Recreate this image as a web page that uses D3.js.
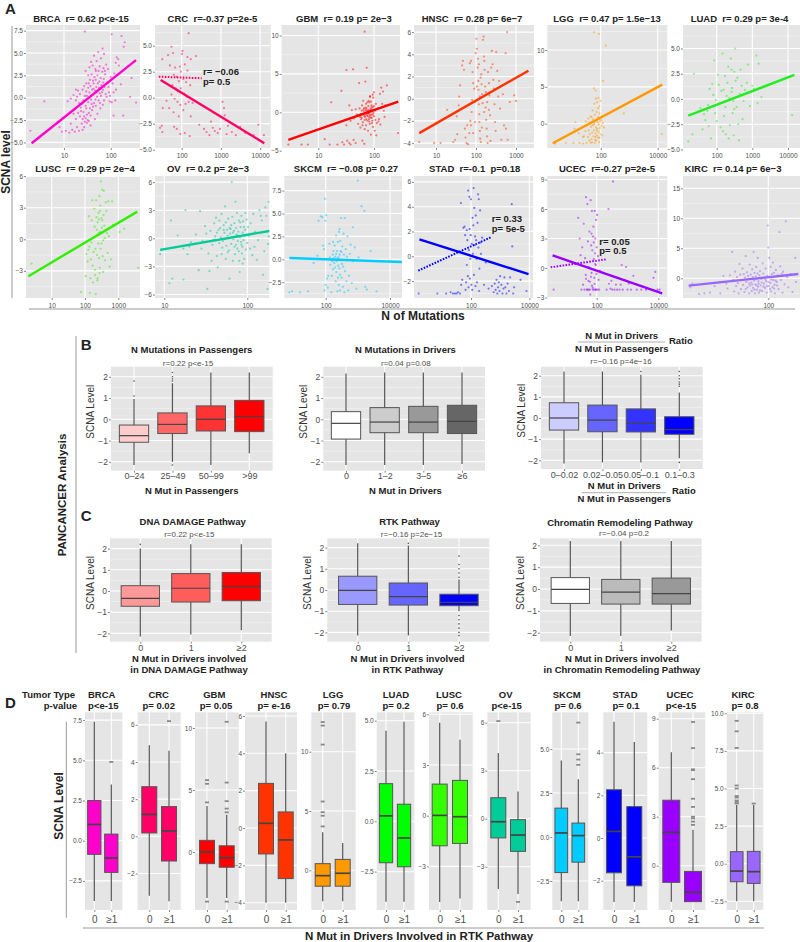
<!DOCTYPE html>
<html><head><meta charset="utf-8">
<script src="https://cdn.jsdelivr.net/npm/d3@7/dist/d3.min.js"></script>
<style>
html,body{margin:0;padding:0;background:#fff}
svg{display:block}
text{font-family:"Liberation Sans",Arial,sans-serif;white-space:pre}
.tick text{fill:#4d4d4d}
.tick line{stroke:#555;stroke-width:.7}
.domain{display:none}
.b{font-weight:bold;fill:#222}
</style></head><body>
<svg id="c" width="800" height="942"></svg>
<script>
// ---------- Panel A: scatter readings as [mutations, SCNA level] ----------
const brcaPoints=[[1.9,-3.7],[3.8,-.4],[28,7.4],[105,7.1],[170,6.9],[200,6.2],[190,5.7],[280,2.2],[350,-.55],[260,.1],[115,-2],[185,-2],[8,-3.3],[9,-3.8],[11,-3.7],[13,-3.9],[15,-3.6],[17,-3.8],[19,-3.3],[14,-2.9],[18,-2.4],[21,-3.7],[24,-2.9],[12,-.4],[14,-.1],[16,.3],[18,.9],[20,.8],[17,-1.3],[20,-1.7],[22,-2.1],[23,-1.5],[25,-2.4],[27,-2.1],[29,-2.3],[31,-1.9],[24,-.7],[26,-.3],[29,-.9],[31,.2],[33,-.5],[36,-1.2],[22,.4],[25,.9],[27,1.3],[30,1.6],[33,1.1],[35,.6],[38,-.2],[41,.3],[44,-.6],[46,.8],[49,1.2],[51,.1],[55,-.3],[58,.5],[63,1.4],[68,.9],[72,-.3],[78,.4],[85,1.7],[92,.6],[36,2],[39,2.6],[42,1.9],[45,2.3],[48,3],[52,2.5],[57,1.8],[61,2.2],[66,2.9],[71,2.1],[76,2.6],[35,3.4],[38,4],[41,3.6],[44,4.7],[47,3.2],[50,4.1],[54,5.1],[58,3.5],[62,4.4],[67,5.5],[72,4.9],[80,3.7],[88,3.2],[100,2.3],[110,1.6],[120,2.7],[128,3.9],[135,4.5],[145,4.3],[150,3.6],[165,1.5],[95,-.4],[105,-.5],[125,-.3],[40,-1.4],[46,-2.4],[52,-1.8],[34,-2.6],[37,-3.1],[60,-1.2],[19,.1],[21,-.6],[23,-1.1],[26,-1.6],[28,-2.7],[30,-1.2],[32,-2.5],[34,-1.7],[37,-2],[39,-.7],[42,-1],[43,1],[47,-.2],[50,.6],[53,1.6],[56,1.1],[59,-.6],[62,.2],[65,.6],[69,1.7],[74,1.2],[82,.1],[90,1.2],[97,.2],[115,.6],[130,.9],[30,.7],[28,.2],[34,1.6],[37,1.3],[40,.9],[43,1.6],[48,2],[55,3],[60,1],[70,3.3],[75,3],[33,2.5],[29,3],[25,-3.6],[18,-.3],[16,-1.8],[27,-3.3],[31,-2.8],[48,-.9],[68,-.8]];
const crcPoints=[[150,6.2],[55,4.9],[105,4.5],[102,4.2],[60,4.3],[45,4.1],[32,3.7],[140,3.9],[170,3.7],[230,4],[50,3.1],[68,2.9],[90,3],[95,2.5],[120,3.2],[140,2.6],[63,2.2],[75,2],[85,1.6],[110,1.8],[130,1.5],[165,1.2],[58,1.2],[70,.9],[80,.6],[95,.9],[115,.4],[135,.1],[55,.3],[66,-.1],[78,-.4],[92,-.7],[125,-.6],[150,-.4],[190,-.5],[41,-.3],[33,-1],[48,-1],[62,-1.4],[84,-1.8],[110,-1.2],[170,-1.8],[28,-2.9],[32,-3.3],[31,-2.7],[64,-2.8],[75,-3],[92,-3.5],[120,-3.4],[160,-3.7],[280,-2.6],[370,-3],[430,-3.3],[510,-3.6],[620,-2.9],[700,-3.2],[830,-3.4],[950,-3],[1100,-.4],[1200,-1],[1500,-2.7],[1900,-3.3],[2400,-3.6],[3100,-2.8],[4200,-3.4],[6800,-3.6],[9000,-2.6],[12500,-3.6],[560,-2.3],[1250,-1.7],[1400,-3.5]];
const gbmPoints=[[2.9,-4.2],[5,-4.2],[6.5,-4.2],[13,-3.5],[16,-4.2],[22,-4.2],[27,-3.9],[29,-4.2],[33,-3.7],[36,-4],[38,-4.2],[43,-3.6],[47,-4],[62,-3.7],[67,-4.1],[68,10.5],[74,5.8],[32,5.5],[42,5.6],[70,4],[54,3.8],[26,2.8],[17,1.3],[36,.9],[40,.3],[44,-.8],[32,-1.7],[38,-1.1],[52,-1.5],[56,-.6],[60,.2],[58,-.2],[61,.9],[64,1.5],[67,-.5],[69,-.1],[71,.3],[73,-.9],[75,-.4],[77,.1],[79,.8],[81,-.2],[83,1.3],[85,2.1],[87,-.7],[89,-.3],[91,.4],[93,-1.1],[95,.7],[97,1.9],[100,-.5],[104,.2],[108,1.1],[112,-1.4],[118,.5],[123,-.9],[128,2.4],[135,3.2],[140,1.1],[145,2.7],[150,.2],[155,-.6],[100,2.6],[95,2.3],[85,2],[80,1.5],[72,-1.7],[68,-2.2],[78,-2.4],[84,-1.5],[88,-2.9],[96,-1.9],[103,-2.4],[110,-3],[120,-1.2],[130,-1.6],[63,-1.3],[57,-2],[49,-.3],[47,.4],[55,.5],[60,-.7],[66,.5],[70,.6],[76,-1.1],[82,-.6],[90,.9],[98,-.1],[65,-.2],[74,.2],[80,-.1],[86,.4],[270,-2.7],[160,.9],[170,3.5],[53,-.4],[59,-.9],[62,-.3],[64,.3],[67,.1],[69,-.6],[71,-.3],[73,.5],[75,-.1],[77,-.5],[79,.3],[81,-.9],[83,.2],[85,-.4],[87,.1],[89,.6],[91,-.7],[93,.1],[95,-.3],[72,1.1],[76,1.3],[88,1.4],[92,-1.4],[100,.8],[106,-1],[68,-1],[62,-1.7],[82,-1.2]];
const hnscPoints=[[3.8,-3.9],[9,-4],[13,-4],[19,-1],[27,-3.9],[30,-3.7],[34,-3.2],[33,-1.6],[37,-.6],[38,.2],[40,1.2],[45,3],[47,3.4],[50,2.6],[53,-2.7],[55,-3.5],[58,-4],[63,-4.1],[68,-3.1],[72,-2],[75,-2.4],[78,-1.2],[80,-.1],[70,3.2],[75,3.4],[82,2.4],[85,1.4],[90,.9],[94,-.3],[98,4.1],[102,5.4],[105,4.5],[110,2.8],[112,3.6],[115,.8],[118,-.5],[120,-1.4],[122,-2.1],[125,-2.9],[128,-3.6],[132,-3.9],[135,2.2],[138,1.3],[142,.4],[146,-.4],[150,5.3],[155,5.6],[158,3.8],[162,3.4],[165,2.6],[170,1.1],[175,-.8],[180,-1.9],[185,-2.7],[190,-3.4],[195,-4],[200,2.4],[210,1.4],[215,.3],[225,-1.5],[230,-3.8],[240,2.8],[250,4.3],[260,3.1],[270,1.7],[280,.9],[290,-.5],[300,-2.1],[310,-2.9],[320,4.2],[340,2.5],[360,.2],[380,1.6],[400,-.9],[430,-3.7],[470,.4],[500,-2.4],[550,4.1],[600,6],[620,-3.7],[700,-.3],[900,.3],[1000,-.2],[560,-2.7],[70,-.5],[60,-2.4],[85,-3.1],[95,-2.1],[105,1.1],[130,1.9],[140,-2.6],[160,-1.2],[175,.6],[190,-.3],[210,-1],[125,.2],[118,3.1],[115,1.6]];
const lggPoints=[[58,12.4],[87,12.2],[150,10.6],[120,5.8],[58,4.8],[66,4.5],[13,.2],[650,1.4],[14000,-1.4],[2.5,-2.7],[6,-2.6],[11,-2.6],[18,-2.6],[24,-2.7],[32,-2.6],[45,-2.6],[62,-2.6],[12,-.7],[17,-1.3],[22,-.5],[26,-1.7],[29,-1],[33,-.2],[36,-1.8],[38,-.9],[41,-1.4],[43,.2],[46,-.4],[48,-2.1],[50,-1.2],[52,-.2],[54,.6],[56,-1.7],[58,-.9],[60,.1],[62,1.2],[64,-2.2],[66,-1.3],[68,-.5],[70,.4],[72,1.6],[74,-1.6],[76,-.7],[78,.2],[80,.9],[82,2.1],[84,-1.1],[86,-.1],[88,.7],[90,1.4],[92,-1.9],[94,-.6],[96,.3],[98,3.1],[100,-1.4],[103,.5],[106,-.3],[110,1],[114,-1.6],[118,.1],[60,2.7],[68,3.4],[75,2.9],[82,3.5],[90,2.4],[52,1.8],[44,1],[37,.7],[30,.3],[24,-1.8],[130,-.5],[50,-2.5],[70,-2.3],[88,-2.5],[40,-2.3],[65,-1.8],[72,-.9],[80,-1.9],[58,-.1],[48,.9]];
const luadPoints=[[16,-4.2],[21,-3.5],[23,2.5],[35,-.9],[40,-3],[44,-1.5],[48,-2.1],[55,-1.2],[57,-.6],[60,-2.7],[64,1],[70,-3.9],[75,1.5],[80,.4],[85,3.8],[90,-1.4],[95,-.1],[100,-2.2],[110,2.4],[115,1.4],[120,-.5],[128,-2.8],[135,.8],[145,4.5],[150,-3.2],[155,.9],[160,-1.7],[170,2.3],[175,-.8],[180,-3.5],[190,.3],[200,1.6],[210,3.2],[215,-3.9],[225,.1],[235,-2.6],[250,4],[260,2.9],[270,1.1],[280,-1.4],[290,-.2],[300,-3.6],[310,2.7],[330,5],[340,1.8],[360,-.8],[380,2.1],[400,-2.5],[420,-4.1],[440,.5],[470,2.9],[500,1.3],[530,-2],[570,-.2],[620,.9],[700,1.6],[750,3.4],[850,-.7],[1000,1.3],[1100,1],[1300,4.3],[1500,3.5],[1400,-.4],[1800,.2],[13000,-1.6],[310,-1],[260,.7]];
const luscPoints=[[2.5,-2.3],[75,-5],[105,-3.5],[110,-1.4],[120,-2.1],[125,-1],[130,2.2],[135,-.7],[140,-5.1],[145,-3.7],[150,-1.9],[155,-.3],[160,1.8],[165,3.7],[170,-2.5],[175,-4.1],[180,-1.2],[185,.2],[190,2.9],[195,1.2],[200,-2.9],[205,-.9],[210,-5.2],[215,3.7],[220,2.1],[225,.9],[230,-1.5],[235,-3.9],[240,1.6],[245,.4],[250,-.4],[255,2.5],[260,1.9],[265,-1.8],[270,4.1],[275,-3.2],[280,.7],[285,2.7],[290,3.2],[295,-.9],[300,5.5],[310,2],[320,1.1],[330,4.7],[340,-1.6],[350,-.1],[360,2.3],[370,4.6],[380,1.3],[390,.1],[400,-2],[420,3.5],[440,2.7],[460,.6],[480,-1.3],[500,3.6],[520,.3],[550,-2.6],[600,-1.9],[650,3.6],[700,1.4],[1100,.7],[1500,1],[4000,-2.7],[280,-2.7],[240,-3.7],[200,-3.4],[350,-3.1],[330,1.8],[260,.6],[310,-.4]];
const ovPoints=[[8.9,-1.7],[11.5,-4.8],[12.5,-4.3],[12,1.9],[14.5,.3],[17,-4.4],[18,3],[19,-1.7],[17,-1.1],[20,-.9],[21,-.4],[24,.4],[26,-3.4],[27,2.9],[28,-1.1],[29,-.3],[31,1.3],[32,.5],[33,-5.4],[34,-1.6],[35,-3.5],[36,.8],[37,-2.4],[38,-.7],[39,-.2],[40,1.6],[41,.2],[42,2.2],[43,-1.9],[44,-3.1],[45,.9],[46,-.5],[47,1.1],[48,.1],[49,2.6],[50,-1],[51,-.3],[52,1.4],[53,.6],[54,3.4],[55,-2.2],[56,-.8],[57,.9],[58,.3],[59,2.1],[60,-1.3],[61,-4.3],[62,.5],[63,1],[64,-.6],[65,6],[66,2.3],[67,-2.4],[68,-.1],[69,.8],[70,1.6],[71,-1.7],[72,3.9],[73,-.7],[74,.4],[75,2.7],[76,-1.1],[77,-.3],[78,.7],[79,1.9],[80,-2.4],[81,-3.6],[82,.1],[83,1.2],[84,-.4],[85,2.4],[86,-1.6],[87,-.9],[88,.6],[89,1.8],[90,-.2],[92,-2.2],[94,.9],[96,-1.2],[98,2],[100,-.5],[105,.3],[110,1.6],[115,-1.8],[118,2.6],[122,-.9],[125,.7],[130,-2.3],[135,-.2],[140,3],[145,2.4],[150,1.9],[155,-3.9],[160,-1.4],[165,3.3],[170,2.4],[175,-5.4],[178,-.6],[180,3.9],[182,.2],[43,.6],[46,1.9],[49,-1.7],[52,.9],[55,1.7],[58,-1.5],[61,1.1],[64,1.4],[67,.6],[70,-.9],[73,1.1],[76,.3],[79,-1.4],[82,1.7],[85,-.7],[88,-2.7],[91,1.2],[95,2.7],[102,1.2],[108,-1.1]];
const skcmPoints=[[7.4,-3.6],[9,-3.5],[16,-3.6],[28,-3.5],[42,-.4],[55,.4],[60,4.2],[70,4.7],[78,4.6],[82,1.5],[88,1.1],[95,6.6],[98,4.2],[104,4.8],[110,-2.1],[115,-3.1],[120,-1.8],[100,-2.8],[92,-3.4],[130,1.7],[135,.2],[140,-.6],[150,-3.6],[155,-1.8],[160,-.2],[165,.5],[170,-1.1],[175,.9],[180,.1],[185,-.4],[190,1.5],[195,-.9],[200,.3],[205,-2.4],[210,.6],[215,-1.4],[220,-.2],[225,.9],[230,-3.5],[235,.1],[240,1.9],[245,-.7],[250,.2],[255,-2.8],[260,3],[265,-1],[270,.5],[275,-3.4],[280,-1.7],[285,2],[290,.9],[295,-.1],[300,4.5],[310,-2],[320,-.5],[330,1.4],[340,-3],[350,-.8],[360,2.8],[370,.5],[380,-3.6],[390,4.5],[400,-1.3],[420,1.1],[440,-2.4],[460,.3],[480,2.5],[500,-3.4],[530,-1.8],[560,.6],[600,1.6],[650,-2.6],[700,3.5],[720,-.2],[800,1.3],[900,-3.2],[1000,8.6],[1050,.2],[1300,5.8],[1600,5.3],[1700,-3],[1900,-3.3],[2500,.9],[3800,-3.5],[270,3.3],[210,2.6],[170,1.9],[240,-2],[310,.8]];
const stadPoints=[[1.6,-3],[7,-3],[14,-3],[20,-2.9],[24,-3],[28,-3],[32,-3],[36,-2.9],[42,-3],[46,-2.3],[45,4.3],[50,-1.9],[55,2.3],[60,2.4],[63,1.7],[65,-2.7],[68,-2.1],[72,2.1],[75,1.3],[78,-1.6],[60,.2],[72,-.7],[80,5.3],[82,-2.5],[85,.5],[88,4.8],[90,2.2],[92,-1.8],[95,-.2],[98,1.7],[100,4.6],[103,-2.3],[106,1],[110,-2.7],[113,3.1],[116,.2],[120,2.5],[123,5.5],[126,-1.5],[130,3.9],[134,.9],[138,1.6],[142,-2.4],[146,3.3],[150,1.3],[155,-.2],[160,-2.1],[168,2.7],[175,5],[180,.7],[185,4.6],[190,-2.8],[195,-1],[205,3.7],[210,1.1],[220,.2],[240,1.5],[280,-2.3],[320,-.5],[400,-2.6],[520,-2.4],[600,-2.9],[650,-2.2],[700,-2.7],[750,-1.9],[800,-3],[850,-2.5],[900,-2.1],[950,-2.8],[1000,-1.6],[1100,-2.3],[1200,-3],[1300,-2.6],[1400,-1.7],[1500,-2.5],[1650,-3],[1800,-2.2],[2000,-2.8],[2200,-1.7],[2500,4.2],[2600,.8],[2800,-3],[5000,-1.9],[8000,-2.8],[3000,-2.5]];
const ucecPoints=[[4,-2.2],[25,5.1],[28,3],[30,1.3],[32,-2.2],[34,2.1],[36,-1.7],[38,4.5],[40,-2.2],[42,1],[44,-.7],[45,7.2],[48,-2.2],[50,6.5],[52,2.7],[54,-1.3],[56,.1],[58,3.7],[60,-2.2],[62,-2.7],[64,6.9],[66,2.3],[68,-.5],[70,5.8],[72,1.8],[74,-2],[76,3.2],[78,4.2],[80,.9],[82,-2.2],[84,-1],[86,5.8],[88,1.5],[90,3],[92,-2.2],[94,.3],[96,4.9],[98,-.6],[100,2.1],[103,5.4],[106,-2.2],[110,1.2],[115,-1.2],[120,-2.2],[126,-.3],[210,-2.2],[240,6],[250,-1.6],[280,-2.1],[300,-1.3],[320,-2.2],[340,8.8],[360,-.9],[380,-2.2],[420,-1.7],[460,-2.2],[500,-1],[550,-2.2],[600,-1.7],[650,.3],[700,-2.2],[800,-1.2],[900,.1],[1000,-2.2],[1100,-1.6],[1300,-2.2],[1550,-.8],[2000,-2.2],[2800,-2.2],[4000,-2.2],[7000,-1],[8000,-.4],[9500,-2.2],[11000,-2.2],[60,-1.4],[70,-1.8],[55,-2.2],[65,-.9],[75,-2.2],[85,-1.6],[95,-2.2],[50,-2.2],[45,-1.1],[80,2.6],[68,3.5],[90,.4]];
const kircPoints=[[4.6,-1.5],[5,-.9],[6.5,-2.6],[8,-2.5],[10,-2.4],[12,-1.3],[14,-.7],[15,-2.5],[17,.4],[19,-.9],[20,-1.7],[22,.5],[24,4.4],[25,-.3],[26,-2.2],[27,1.1],[28,-1.3],[29,.2],[30,-.8],[31,-2.5],[32,2.4],[33,.6],[34,-1.8],[35,-.3],[36,1.6],[37,-1.1],[38,.7],[39,-2.3],[40,.1],[41,3.7],[42,-.6],[43,1],[44,-1.5],[45,.4],[46,-.1],[47,-2.5],[48,2.3],[49,-1.2],[50,.6],[51,-.7],[52,-2.1],[53,1.5],[54,.2],[55,-1.6],[56,4.4],[57,-.4],[58,.9],[59,-2.5],[60,-1],[61,.3],[62,1.9],[63,-.2],[64,-1.9],[65,.8],[66,3.4],[67,-1.4],[68,-.5],[69,-2.4],[70,.5],[72,1.2],[74,-1.2],[76,-.1],[78,-2.1],[80,2.5],[82,.8],[84,-.9],[86,.1],[88,-1.6],[90,1.6],[92,-.5],[94,-2.4],[96,.4],[98,8.8],[100,5.1],[102,-1.3],[104,3.4],[106,.2],[108,-.8],[110,1.9],[112,-2.2],[115,.7],[118,-1.5],[120,2.6],[122,-.3],[125,.9],[128,-1.1],[130,-2.5],[135,1.4],[140,-.6],[145,.5],[150,-1.8],[155,7.7],[160,2],[165,-.3],[170,.8],[175,-2.4],[180,1.1],[190,-1],[200,9.5],[210,.2],[220,-1.5],[240,.7],[260,-2.3],[290,3.4],[300,-.6],[41,-1.8],[47,-.9],[53,-1],[58,-1.9],[63,-1.2],[68,-.9],[72,-2],[77,-.7],[83,-1.4],[89,-.2],[95,-1.3],[101,-.6],[107,-1.8],[113,-.2],[119,.2],[126,-1.7],[133,-.4],[141,-1.2]];

// ---------- Panel A: fitted lines as [[x,y],[x,y]] ----------
const brcaFit=[[2.03,-5.1],[348,4.2]], crcFit=[[29,1.7],[12800,-4.38]], crcDotted=[[26,2.02],[323,1.87]];
const gbmFit=[[2.9,-3.6],[273,1.38]], hnscFit=[[3.8,-3.1],[2040,2.52]], lggFit=[[2.07,-2.66],[14500,5.3]];
const luadFit=[[16,-1.65],[15100,2.38]], luscFit=[[2,-3.5],[3720,2.63]], ovFit=[[8.9,-1.24],[184,.78]];
const skcmFit=[[7.4,.14],[23400,-.3]], stadFit=[[1.7,1.37],[9400,-1.43]], stadDotted=[[1.55,-1.16],[475,1.53]];
const ucecFit=[[3.7,1.29],[13400,-2.57]], ucecDotted=[[3.2,.07],[200,.88]], kircFit=[[4.3,-1.23],[327,.72]];

// ---------- Box summaries: [low whisker, Q1, median, Q3, high whisker, outliers] ----------
const passengerCats=['0–24','25–49','50–99','>99'];
const passengerBoxes=[[-2.15,-1.08,-.77,-.27,.95,[1.1,1.8]],[-2,-.67,-.24,.3,1.7,[1.8,1.9,2,2.2,-2.15]],[-2.15,-.55,0,.63,2.2,[]],[-1.6,-.58,.13,.89,2.2,[]]];
const driverCats=['0','1–2','3–5','≥6'];
const driverBoxes=[[-2.15,-.93,-.19,.36,2.15,[]],[-2.15,-.63,-.13,.55,2.2,[]],[-2.15,-.63,-.13,.61,2.2,[]],[-2.1,-.67,-.1,.66,2.2,[]]];
const ratioCats=['0–0.02','0.02–0.05','0.05–0.1','0.1–0.3'];
const ratioBoxes=[[-2.15,-.57,0,.72,2.2,[]],[-2.1,-.65,-.1,.61,2.2,[]],[-2.1,-.66,-.24,.43,2.05,[2.2]],[-1.9,-.77,-.55,.06,1.2,[1.5,1.6,1.7,1.85,2,2.2,-2.1]]];
const pathwayCats=['0','1','≥2'];
const dnaBoxes=[[-2.15,-.72,-.35,.25,2,[2.2]],[-2.05,-.52,.13,.82,2.2,[]],[-1.85,-.46,.22,.87,2.2,[]]];
const rtkBoxes=[[-2.15,-.68,-.02,.65,2.2,[]],[-2.15,-.71,-.31,.33,2.1,[2.2]],[-1,-.74,-.58,-.2,.5,[.6,.8,1,1.2,1.6,-1.2,-1.4,-1.6,-1.8,-2,-2.15]]];
const chromatinBoxes=[[-2.15,-.66,-.02,.52,2.2,[]],[-2.15,-.69,-.14,.44,2.2,[]],[-1.9,-.69,-.21,.5,2.2,[]]];

// ---------- Panel D: tumour boxes, [no RTK mutation, at least one] ----------
const tumorCats=['0','≥1'];
const dBrca=[[-3.75,-.85,1.01,2.5,7.4,[]],[-3.75,-1.97,-1.08,.41,3.5,[4.9]]];
const dCrc=[[-3.2,.18,1.18,2.67,4.9,[]],[-3.5,-1.33,.29,1.6,4.6,[6.2]]];
const dGbm=[[-3.7,-.94,0,.94,3.7,[5.8,5.5,4,-4]],[-3.7,-1.23,-.46,.5,3,[10.5,5.6,4.1,3.5,3.2,-4]]];
const dHnsc=[[-4,-1.39,.25,2.39,5.7,[]],[-4,-2.71,-.64,.86,4,[]]];
const dLgg=[[-2.6,-1.34,-.45,.56,3.2,[12.5,12.2,10.6,5.8,4.9,4.6,3.7]],[-2.6,-1.34,-.25,.92,2.3,[]]];
const dLuad=[[-4,-2.06,.27,1.87,4.5,[]],[-4,-2.26,-.83,.85,4.95,[]]];
const dLusc=[[-5.1,-1.78,.02,1.87,5.5,[]],[-4.9,-1.64,-.06,2.09,4.5,[]]];
const dOv=[[-4.4,-1.2,-.19,1.31,4.1,[6.1]],[-4.7,-2.04,-1.02,-.06,1.7,[-5.2]]];
const dSkcm=[[-3.65,-2.02,.23,1.64,4.35,[]],[-3.65,-1.43,.08,.79,3.28,[6.5,4.7,4.4,4.1]]];
const dStad=[[-3,-1.63,.31,2.26,5.45,[]],[-3,-2.24,-.88,1.47,4.5,[]]];
const dUcec=[[-2.2,-1.02,2.04,4.01,6.95,[]],[-2.2,-2.2,-1.63,-.35,2.2,[8.8,7.2,5.9,5.85,5.3,4.1,3.6,3,2.9,2.7,2.5]]];
const dKirc=[[-2.5,-1.2,-.49,.8,3.9,[9.5,8.8,7.7,5.2,5,4.5,4.4,4.2,4.1,4]],[-2.5,-1.31,-.53,.82,3.9,[4]]];

// ---------- Layout and style (kept apart from the readings) ----------
const MIN='−';
const fmt1=v=>(v<0?MIN:'')+Math.abs(v).toFixed(1);
const fmt0=v=>(v<0?MIN:'')+Math.abs(v);
const scatter=[
{title:'BRCA  r= 0.62 p<e-15',tx:81,ty:21.7,c:'#FF00CC',r:[26,25,140,148],xa:[[10,64],[100,110.7]],ya:[[0,97.7],[5,53]],xt:[10,100],yt:[-5,-2.5,0,2.5,5,7.5],f:fmt1,pts:brcaPoints,fit:brcaFit},
{title:'CRC  r=-0.37 p=2e-5',tx:212.5,ty:21.7,c:'#FF0066',r:[155,25,270.7,148],xa:[[100,181.7],[1000,220.9]],ya:[[0,97.7],[5,45.7]],xt:[100,1000,10000],yt:[-5,-2.5,0,2.5,5],f:fmt1,pts:crcPoints,fit:crcFit,dot:crcDotted,note:['r= −0.06','p= 0.5'],nx:203,ny:[75,85]},
{title:'GBM  r= 0.19 p= 2e−3',tx:344,ty:21.7,c:'#FF0000',r:[281.7,25,400,148],xa:[[10,318.3],[100,374]],ya:[[0,112.3],[5,73.9]],xt:[10,100],yt:[-5,0,5,10],f:fmt0,pts:gbmPoints,fit:gbmFit},
{title:'HNSC  r= 0.28 p= 6e−7',tx:472,ty:21.7,c:'#FF3300',r:[414,25,534,148],xa:[[10,436],[100,476]],ya:[[0,98.7],[2,76.5]],xt:[10,100,1000],yt:[-4,-2,0,2,4,6],f:fmt0,pts:hnscPoints,fit:hnscFit},
{title:'LGG  r= 0.47 p= 1.5e−13',tx:607,ty:21.7,c:'#FF9900',r:[547.3,25,667.3,148],xa:[[100,600.7],[10000,657.7]],ya:[[0,123.7],[5,86.85]],xt:[100,10000],yt:[0,5,10],f:fmt0,pts:lggPoints,fit:lggFit},
{title:'LUAD  r= 0.29 p= 3e-4',tx:739.5,ty:21.7,c:'#22EE22',r:[683,25,800,148],xa:[[100,716.7],[10000,788]],ya:[[0,99],[5,48.5]],xt:[100,1000,10000],yt:[-5,-2.5,0,2.5,5],f:fmt1,pts:luadPoints,fit:luadFit},
{title:'LUSC  r= 0.29 p= 2e−4',tx:85,ty:172.3,c:'#33EE00',r:[26,176,140,298],xa:[[10,51.7],[100,85]],ya:[[0,239.3],[3,207.7]],xt:[10,100,1000],yt:[-3,0,3,6],f:fmt0,pts:luscPoints,fit:luscFit},
{title:'OV  r= 0.2 p= 2e−3',tx:208,ty:172.3,c:'#00CC99',r:[155,176,269.3,298],xa:[[10,164.3],[100,247.3]],ya:[[0,238.3],[3,210.2]],xt:[10,100],yt:[-6,-3,0,3,6],f:fmt0,pts:ovPoints,fit:ovFit},
{title:'SKCM  r= −0.08 p= 0.27',tx:346,ty:172.3,c:'#00CCFF',r:[284.3,176,402,298],xa:[[100,325.7],[10000,390]],ya:[[0,259.3],[5,213.5]],xt:[100,10000],yt:[-2.5,0,2.5,5,7.5],f:fmt1,pts:skcmPoints,fit:skcmFit},
{title:'STAD  r=-0.1  p=0.18',tx:474.7,ty:172.3,c:'#0000FF',r:[414,176,533,298],xa:[[100,471],[10000,529.3]],ya:[[0,256.3],[2,231.5]],xt:[100,10000],yt:[-2,0,2,4,6],f:fmt0,pts:stadPoints,fit:stadFit,dot:stadDotted,note:['r= 0.33','p= 5e-5'],nx:491.7,ny:[222.3,231.7]},
{title:'UCEC  r=-0.27 p=2e-5',tx:607,ty:172.3,c:'#9900FF',r:[547.3,176,667.3,298],xa:[[100,596.7],[10000,658.3]],ya:[[0,268],[3,238.5]],xt:[100,10000],yt:[-3,0,3,6,9],f:fmt0,pts:ucecPoints,fit:ucecFit,dot:ucecDotted,note:['r= 0.05','p= 0.5'],nx:599.3,ny:[245,254.3]},
{title:'KIRC  r= 0.14 p= 6e−3',tx:733,ty:172.3,c:'#9966FF',r:[683,176,800,298],xa:[[10,710],[100,768.3]],ya:[[0,278.3],[5,248.3]],xt:[100],yt:[0,5,10,15],f:fmt0,pts:kircPoints,fit:kircFit}
];
const boxPanels=[
{r:[111,366.7,272.7,470.7],ya:[[0,419.3],[2,376.8]],cx:[134,249.3],w:29.3,cats:passengerCats,boxes:passengerBoxes,fills:['#FFCCCC','#FF6666','#FF3333','#FF0000'],title:'N Mutations in Passengers',tx:191.7,ty:353,sub:'r=0.22 p<e-15',sx:188,sy:365.5,lx:90,ly:411.7,xy:481,xt:['N Mut in Passengers'],xtx:191.7,xty:[493.7]},
{r:[323.3,366.7,485,470.7],ya:[[0,419.3],[2,376.8]],cx:[346,462],w:29.3,cats:driverCats,boxes:driverBoxes,fills:['#FFFFFF','#CCCCCC','#999999','#666666'],title:'N Mutations in Drivers',tx:405.5,ty:353,sub:'r=0.04 p=0.08',sx:405.8,sy:365.5,lx:303,ly:411.7,xy:481,xt:['N Mut in Drivers'],xtx:405.5,xty:[493.7]},
{r:[541,366.7,702.7,469],ya:[[0,418],[2,375.7]],cx:[564,679.3],w:29.3,cats:ratioCats,boxes:ratioBoxes,fills:['#CCCCFF','#6666FF','#3333FF','#0000FF'],sub:'r=−0.16 p=4e−16',sx:621,sy:364,lx:521,ly:410.7,xy:480},
{r:[110,538.3,271.7,641.7],ya:[[0,591],[2,548.6]],cx:[140.3,241.3],w:38.3,cats:pathwayCats,boxes:dnaBoxes,fills:['#FF9999','#FF5C5C','#FF0000'],title:'DNA DAMAGE Pathway',tx:192.7,ty:525,sub:'r=0.22 p<e-15',sx:189.3,sy:537,lx:90,ly:583,xy:652.7,xt:['N Mut in Drivers involved','in DNA DAMAGE Pathway'],xtx:189,xty:[661.7,673]},
{r:[327.3,538.3,489.3,641.7],ya:[[0,590],[2,547.6]],cx:[357.7,459],w:38.3,cats:pathwayCats,boxes:rtkBoxes,fills:['#9999FF','#6666FF','#0000FF'],title:'RTK Pathway',tx:409.5,ty:525,sub:'r=−0.16 p=2e−15',sx:411.5,sy:537,lx:307.7,ly:583,xy:652.7,xt:['N Mut in Drivers involved','in RTK Pathway'],xtx:407.5,xty:[661.7,673]},
{r:[540,538.3,701.7,641.7],ya:[[0,589],[2,545.3]],cx:[570.3,671.3],w:38.3,cats:pathwayCats,boxes:chromatinBoxes,fills:['#FFFFFF','#BBBBBB','#999999'],title:'Chromatin Remodeling Pathway',tx:620,ty:525.7,sub:'r=−0.04 p=0.2',sx:624,sy:536,lx:520.7,ly:583,xy:652.7,xt:['N Mut in Drivers involved','in Chromatin Remodeling Pathway'],xtx:622,xty:[661.7,673]}
];
const tumors=[
{n:'BRCA',p:'p<e-15',nx:101.7,px:103.3,r:[85,712.3,122.3,910],ya:[[0,840.7],[5,760.3]],cx:[94.3,111.3],w:13.3,b:dBrca,yt:[-2.5,0,2.5,5,7.5],f:fmt1,c:'#FF00CC'},
{n:'CRC',p:'p= 0.02',nx:158.7,px:158.7,r:[137.7,712.3,180.7,910],ya:[[0,836.3],[4,762]],cx:[149.3,169],w:15,b:dCrc,yt:[-2,0,2,4,6],f:fmt0,c:'#FF0066'},
{n:'GBM',p:'p= 0.05',nx:214.3,px:216,r:[195,712.3,238.7,910],ya:[[0,852],[5,790]],cx:[207,226.7],w:15,b:dGbm,yt:[0,5,10],f:fmt0,c:'#FF0000'},
{n:'HNSC',p:'p= e-16',nx:274,px:274,r:[245,712.3,297,910],ya:[[0,828],[4,753.3]],cx:[266,285.7],w:15,b:dHnsc,yt:[-4,-2,0,2,4,6],f:fmt0,c:'#FF3300'},
{n:'LGG',p:'p= 0.79',nx:333,px:334,r:[311.3,712.3,355.7,910],ya:[[0,870.3],[5,811]],cx:[322.7,342.7],w:15,b:dLgg,yt:[0,5,10],f:fmt0,c:'#FF9900'},
{n:'LUAD',p:'p= 0.2',nx:396,px:396,r:[376.7,712.3,414.3,910],ya:[[0,821.3],[2.5,771]],cx:[386,404],w:13.3,b:dLuad,yt:[-2.5,0,2.5,5],f:fmt1,c:'#00FF00'},
{n:'LUSC',p:'p= 0.6',nx:449,px:450,r:[429,712.3,472.7,910],ya:[[0,815.7],[3,765]],cx:[439.7,460],w:15,b:dLusc,yt:[-3,0,3,6],f:fmt0,c:'#33FF00'},
{n:'OV',p:'p<e-15',nx:505.7,px:506.7,r:[487.3,712.3,530.7,910],ya:[[0,818.7],[3,770.7]],cx:[498.3,518],w:15,b:dOv,yt:[-3,0,3,6],f:fmt0,c:'#00CC99'},
{n:'SKCM',p:'p= 0.6',nx:566.7,px:568,r:[552.3,712.3,588.3,910],ya:[[0,837],[2.5,793]],cx:[561.3,578.3],w:12.7,b:dSkcm,yt:[-2.5,0,2.5,5],f:fmt1,c:'#00CCFF'},
{n:'STAD',p:'p= 0.1',nx:625,px:626,r:[603.3,712.3,647.3,910],ya:[[0,838],[2,795.3]],cx:[614,634.3],w:15,b:dStad,yt:[-2,0,2,4],f:fmt0,c:'#0000FF'},
{n:'UCEC',p:'p<e-15',nx:680,px:681,r:[658.7,712.3,705.3,910],ya:[[0,865.7],[3,816.7]],cx:[671.3,693],w:17,b:dUcec,yt:[0,3,6,9],f:fmt0,c:'#9900FF'},
{n:'KIRC',p:'p= 0.8',nx:743,px:745,r:[726.7,712.3,763.3,910],ya:[[0,863.7],[5,788.5]],cx:[736.7,753.7],w:12.7,b:dKirc,yt:[-2.5,0,2.5,5,7.5,10],f:fmt1,c:'#9966FF'}
];

const svg=d3.select('#c');
const txt=(x,y,s,size,o={})=>svg.append('text').attr('x',x).attr('y',y).attr('font-size',size)
  .attr('text-anchor',o.a||'middle').attr('class',o.bold===false?null:'b').attr('fill',o.fill||'#222').text(s);
const vtxt=(x,y,s,size,o={})=>svg.append('text').attr('transform',`translate(${x},${y}) rotate(-90)`).attr('font-size',size)
  .attr('text-anchor','middle').attr('class',o.bold===false?null:'b').attr('fill',o.fill||'#222').text(s);
const rule=(x1,y1,x2,y2,w=1,c='#999')=>svg.append('line').attr('x1',x1).attr('y1',y1).attr('x2',x2).attr('y2',y2).attr('stroke',c).attr('stroke-width',w);

function frame(r,xs,xv,ys,yv,minor){
  const [x0,y0,x1,y1]=r, g=svg.append('g');
  g.append('rect').attr('x',x0).attr('y',y0).attr('width',x1-x0).attr('height',y1-y0).attr('fill','#E5E5E5');
  const ly=yv.filter(v=>ys(v)>=y0&&ys(v)<=y1);
  if(minor&&yv.length>1){
    const step=yv[1]-yv[0], m=[];
    for(let k=-1;k<yv.length;k++){const v=(k<0?yv[0]-step:yv[k])+step/2; if(ys(v)>y0&&ys(v)<y1)m.push(v);}
    g.selectAll(null).data(m).join('line').attr('x1',x0).attr('x2',x1).attr('y1',ys).attr('y2',ys).attr('stroke','#F2F2F2').attr('stroke-width',.7);
  }
  g.selectAll(null).data(ly).join('line').attr('x1',x0).attr('x2',x1).attr('y1',ys).attr('y2',ys).attr('stroke','#fff').attr('stroke-width',1.1);
  g.selectAll(null).data(xv).join('line').attr('y1',y0).attr('y2',y1).attr('x1',xs).attr('x2',xs).attr('stroke','#fff').attr('stroke-width',1.1);
  return g;
}
function axisY(r,ys,vals,f,size){
  svg.append('g').attr('transform',`translate(${r[0]},0)`)
    .call(d3.axisLeft(ys).tickValues(vals).tickSize(2).tickPadding(1).tickFormat(f)).attr('font-size',size);
}
function axisX(r,xs,vals,f,size,pad){
  svg.append('g').attr('transform',`translate(0,${r[3]})`)
    .call(d3.axisBottom(xs).tickValues(vals).tickSize(2).tickPadding(pad).tickFormat(f)).attr('font-size',size);
}

// Panel A
scatter.forEach(p=>{
  const xs=d3.scaleLog().domain(p.xa.map(a=>a[0])).range(p.xa.map(a=>a[1]));
  const ys=d3.scaleLinear().domain(p.ya.map(a=>a[0])).range(p.ya.map(a=>a[1]));
  const g=frame(p.r,xs,p.xt,ys,p.yt,true);
  g.selectAll(null).data(p.pts).join('circle').attr('cx',d=>xs(d[0])).attr('cy',d=>ys(d[1])).attr('r',1.1).attr('fill',p.c).attr('fill-opacity',.5);
  const line=d3.line().x(d=>xs(d[0])).y(d=>ys(d[1]));
  g.append('path').attr('d',line(p.fit)).attr('stroke',p.c).attr('stroke-width',2.4).attr('fill','none');
  if(p.dot)g.append('path').attr('d',line(p.dot)).attr('stroke',p.c).attr('stroke-width',2).attr('stroke-dasharray','1.6 1.4').attr('fill','none');
  axisY(p.r,ys,p.yt,p.f,6.5);
  axisX(p.r,xs,p.xt,d3.format('d'),6.5,3);
  txt(p.tx,p.ty,p.title,9.5);
  if(p.note)p.note.forEach((s,i)=>txt(p.nx,p.ny[i],s,9.5,{a:'start'}));
});

// Shared box drawing
function boxes(p,fills,cats,data,w,o){
  const xs=d3.scalePoint().domain(cats).range(p.cx);
  const ys=d3.scaleLinear().domain(p.ya.map(a=>a[0])).range(p.ya.map(a=>a[1]));
  const g=frame(p.r,xs,cats,ys,o.yt,o.minor);
  cats.forEach((c,i)=>{
    const [lo,q1,med,q3,hi,out]=data[i], x=xs(c);
    g.append('line').attr('x1',x).attr('x2',x).attr('y1',ys(lo)).attr('y2',ys(hi)).attr('stroke','#555').attr('stroke-width',1.2);
    g.append('rect').attr('x',x-w/2).attr('width',w).attr('y',ys(q3)).attr('height',ys(q1)-ys(q3)).attr('fill',fills[i]).attr('stroke','#555').attr('stroke-width',1);
    g.append('line').attr('x1',x-w/2).attr('x2',x+w/2).attr('y1',ys(med)).attr('y2',ys(med)).attr('stroke','#444').attr('stroke-width',o.medW);
    if(o.dash) g.selectAll(null).data(out).join('rect').attr('x',x-2).attr('width',4).attr('y',d=>ys(d)-.9).attr('height',1.8).attr('fill','#888');
    else g.selectAll(null).data(out).join('circle').attr('cx',x).attr('cy',d=>ys(d)).attr('r',.8).attr('fill','#555');
  });
  return {xs,ys};
}

// Panels B and C
boxPanels.forEach(p=>{
  const yt=[-2,-1,0,1,2];
  const {xs,ys}=boxes(p,p.fills,p.cats,p.boxes,p.w,{yt,minor:true,medW:1.2});
  axisY(p.r,ys,yt,fmt0,8.5);
  axisX(p.r,xs,p.cats,d=>d,9,p.xy-p.r[3]-10);
  if(p.title)txt(p.tx,p.ty,p.title,9.5);
  txt(p.sx,p.sy,p.sub,8,{bold:false,fill:'#4d4d4d'});
  vtxt(p.lx+3.5,p.ly,'SCNA Level',10,{bold:false,fill:'#333'});
  if(p.xt)p.xt.forEach((s,i)=>txt(p.xtx,p.xty[i],s,9.5));
});
// Ratio fractions
txt(621.7,339,'N Mut in Drivers',9.5); rule(578,342,665,342,.8); txt(621.7,351.7,'N Mut in Passengers',9.5); txt(669,344,'Ratio',9.5,{a:'start'});
txt(624.3,489.3,'N Mut in Drivers',9.5); rule(581.7,492.7,666,492.7,.8); txt(624.3,502.3,'N Mut in Passengers',9.5); txt(672,494,'Ratio',9.5,{a:'start'});

// Panel D
tumors.forEach(p=>{
  const {xs,ys}=boxes(p,[p.c,p.c],tumorCats,p.b,p.w,{yt:p.yt,minor:false,medW:1.7,dash:true});
  axisY(p.r,ys,p.yt,p.f,6.5);
  axisX(p.r,xs,tumorCats,d=>d,10,3.5);
  txt(p.nx,697.7,p.n,9.5);
  txt(p.px,709,p.p,9.5);
});
txt(75,697.7,'Tumor Type',9.5,{a:'end'});
txt(77,709,'p-value',9.5,{a:'end'});

// Frame lines, section letters and outer labels
rule(12,26,12,298,1,'#999'); rule(29,309,795,309,1,'#999');
rule(76,336,76,653,1,'#999');
rule(66.3,721.7,66.3,917.7,1,'#999'); rule(83,928,764,928,1,'#999');
vtxt(10,162,'SCNA level',12);
txt(423,320,'N of Mutations',12);
vtxt(66,495,'PANCANCER Analysis',11.5);
vtxt(63,806,'SCNA Level',12);
txt(419,940,'N Mut in Drivers Involved in RTK Pathway',11.5);
[['A',5,13.5],['B',80.7,350],['C',80.7,521],['D',5,708]].forEach(d=>txt(d[1],d[2],d[0],15,{a:'start'}).attr('fill','#111'));
</script>
</body></html>
